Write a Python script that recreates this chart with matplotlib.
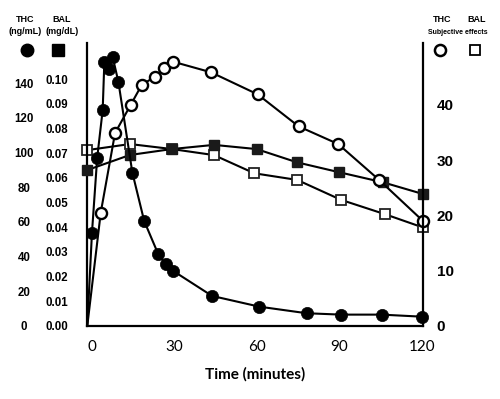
import matplotlib
matplotlib.use('Agg')
import matplotlib.pyplot as plt
from matplotlib.lines import Line2D

# ---- data ----
thc_time = [-1.7, 0.0, 1.9, 3.9, 4.5, 6.3, 7.5, 9.6, 14.7, 19.0, 24.1, 26.8, 29.6,
            43.7, 60.9, 78.1, 90.6, 105.4, 120.2]
thc_conc = [0, 53.7, 97, 124.6, 152.2, 148.3, 155.4, 141, 88.4, 60.5, 41.4, 35.6, 31.6,
            17.2, 11, 7.2, 6.4, 6.4, 5.2]

thc_subj_time = [-1.7, 3.2, 8.4, 14.1, 18.1, 22.9, 26.3, 29.6, 43.3, 60.3, 75.2,
                 89.6, 104.5, 120.4]
thc_subj = [0, 20.5, 34.9, 40.0, 43.6, 45.1, 46.7, 47.8, 45.9, 41.9, 36.1,
            32.9, 26.4, 19.0]

bal_time = [-1.7, 13.8, 29.0, 44.4, 59.9, 74.7, 90.0, 106.0, 120.4]
bal_conc = [0.0631, 0.0692, 0.0716, 0.0733, 0.0716, 0.0662, 0.0622, 0.0581, 0.0534]

bal_subj_time = [-1.7, 13.8, 29.0, 44.4, 59.1, 74.7, 90.6, 106.6, 120.4]
bal_subj = [31.8, 32.9, 32.0, 30.9, 27.6, 26.4, 22.8, 20.2, 17.8]

x_ticks = [0, 30, 60, 90, 120]
thc_ticks = [0, 20, 40, 60, 80, 100, 120, 140]
bal_ticks = [0.00, 0.01, 0.02, 0.03, 0.04, 0.05, 0.06, 0.07, 0.08, 0.09, 0.10]
subj_ticks = [0, 10, 20, 30, 40]

# ---- figure ----
W, H = 500, 399
fig = plt.figure(figsize=(5, 3.99), dpi=100)
left_px, right_px, top_px, bot_px = 87.3, 422.8, 43, 325.7
ax = fig.add_axes([left_px / W, 1 - bot_px / H, (right_px - left_px) / W, (bot_px - top_px) / H])
ax_bal = ax.twinx()
ax_sub = ax.twinx()

ax.set_xlim(-1.7, 120.4)
ax.set_ylim(0, 163.3)
ax_bal.set_ylim(0, 0.1146)
ax_sub.set_ylim(0, 51.2)

lw = 1.5
# open squares (BAL subjective) - bottom
ax.plot(bal_subj_time, bal_subj, '-', color='black', lw=lw, marker='s', ms=7.5,
        mfc='white', mec='#222222', mew=1.3, transform=ax_sub.transData, clip_on=False, zorder=2)
# filled squares (BAL concentration)
ax.plot(bal_time, bal_conc, '-', color='black', lw=lw, marker='s', ms=7.5,
        mfc='#1a1a1a', mec='#1a1a1a', mew=1, transform=ax_bal.transData, clip_on=False, zorder=3)
# open circles (THC subjective) - no marker on the baseline point
ax.plot(thc_subj_time, thc_subj, '-', color='black', lw=lw, marker='o', ms=8,
        mfc='white', mec='black', mew=1.7, markevery=slice(1, None),
        transform=ax_sub.transData, clip_on=False, zorder=4)
# filled circles (THC concentration) - no marker on the baseline point
ax.plot(thc_time, thc_conc, '-', color='black', lw=lw, marker='o', ms=8.8,
        mfc='black', mec='black', mew=0.5, markevery=slice(1, None), clip_on=False, zorder=5)
ax.set_xlim(-1.7, 120.4)
ax.set_ylim(0, 163.3)

# spines
for a in (ax, ax_bal, ax_sub):
    for s in a.spines.values():
        s.set_visible(False)
    a.patch.set_visible(False)
ax.spines['left'].set_visible(True)
ax.spines['bottom'].set_visible(True)
ax_sub.spines['right'].set_visible(True)
for s in (ax.spines['left'], ax.spines['bottom'], ax_sub.spines['right']):
    s.set_linewidth(1.6)
    s.set_color('black')

# x ticks
ax.set_xticks(x_ticks)
ax.set_xticklabels([str(v) for v in x_ticks], fontsize=11, family='Lato')
ax.tick_params(axis='x', length=0, pad=10)
ax.set_xlabel('Time (minutes)', fontsize=11, family='Lato', fontweight='bold', labelpad=10)

# THC ticks (left, outer column)
ax.set_yticks(thc_ticks)
ax.set_yticklabels([str(v) for v in thc_ticks], fontsize=8.3, family='Liberation Sans',
                   fontweight='bold')
ax.tick_params(axis='y', length=0, pad=45.5)
for lab in ax.get_yticklabels():
    lab.set_horizontalalignment('center')

# BAL ticks (left, inner column)
ax_bal.yaxis.set_ticks_position('left')
ax_bal.set_yticks(bal_ticks)
ax_bal.set_yticklabels([f'{v:.2f}' for v in bal_ticks], fontsize=8.3, family='Liberation Sans',
                       fontweight='bold')
ax_bal.tick_params(axis='y', length=0, pad=22)
for lab in ax_bal.get_yticklabels():
    lab.set_horizontalalignment('center')

# subjective ticks (right)
ax_sub.set_yticks(subj_ticks)
ax_sub.set_yticklabels([str(v) for v in subj_ticks], fontsize=11, family='Liberation Sans',
                       fontweight='bold')
ax_sub.tick_params(axis='y', length=0, pad=10)

# header texts
def fx(x):
    return x / W

def fy(y):
    return 1 - y / H

hdr = dict(family='Liberation Sans', fontweight='bold', ha='center', va='center')
fig.text(fx(25), fy(19), 'THC', fontsize=6.5, **hdr)
fig.text(fx(25), fy(32), '(ng/mL)', fontsize=6.5, **hdr)
fig.text(fx(62), fy(19), 'BAL', fontsize=6.5, **hdr)
fig.text(fx(62), fy(32), '(mg/dL)', fontsize=6.5, **hdr)
fig.text(fx(441.7), fy(20), 'THC', fontsize=6.5, **hdr)
fig.text(fx(476.7), fy(20), 'BAL', fontsize=6.5, **hdr)
fig.text(fx(458.3), fy(32), 'Subjective effects', fontsize=5, **hdr)

# legend symbols
fig.add_artist(Line2D([fx(26.7)], [fy(50)], marker='o', ms=9, mfc='black', mec='black',
                      transform=fig.transFigure))
fig.add_artist(Line2D([fx(58.3)], [fy(50)], marker='s', ms=8, mfc='black', mec='black',
                      transform=fig.transFigure))
fig.add_artist(Line2D([fx(440)], [fy(50)], marker='o', ms=8, mfc='white', mec='black', mew=1.8,
                      transform=fig.transFigure))
fig.add_artist(Line2D([fx(475)], [fy(50)], marker='s', ms=7.5, mfc='white', mec='black', mew=1.3,
                      transform=fig.transFigure))

fig.savefig('out.png', dpi=100)
